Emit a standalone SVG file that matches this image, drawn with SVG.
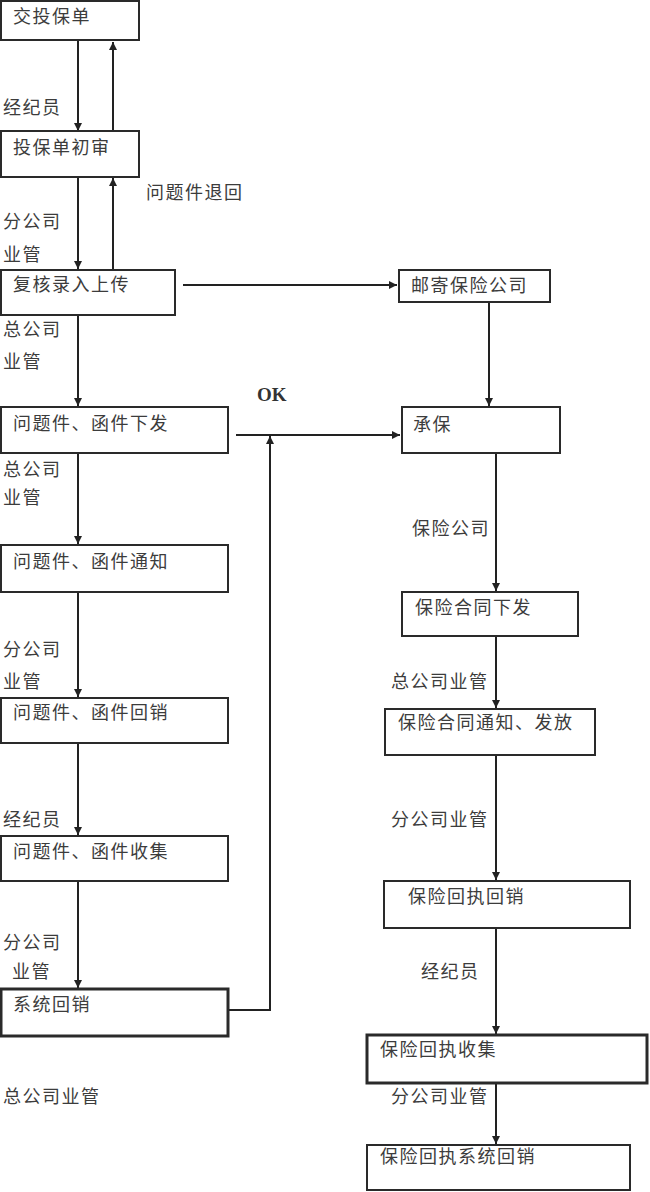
<svg xmlns="http://www.w3.org/2000/svg" width="650" height="1192" viewBox="0 0 650 1192">
<style>
.box{fill:#fff;stroke:#2a2a2a;stroke-width:2}
.thick{stroke-width:3}
.t{font-family:"Noto Sans CJK SC","Noto Sans",sans-serif;font-size:18px;letter-spacing:1.5px;fill:#3c3c3c}
.c{fill:none;stroke:#222;stroke-width:2}
.ok{font-family:"Liberation Serif",serif;font-size:19px;font-weight:bold;fill:#333}
</style>
<defs>
<marker id="ah" viewBox="0 0 10 10" refX="10" refY="5" markerWidth="4" markerHeight="4" markerUnits="strokeWidth" orient="auto">
<path d="M0,0 L10,5 L0,10 z" fill="#222"/>
</marker>
</defs>
<g id="connectors">
<path class="c" d="M78,41 V131" marker-end="url(#ah)"/>
<path class="c" d="M113,131 V42" marker-end="url(#ah)"/>
<path class="c" d="M78,178 V269" marker-end="url(#ah)"/>
<path class="c" d="M113,269 V178" marker-end="url(#ah)"/>
<path class="c" d="M78,315 V406" marker-end="url(#ah)"/>
<path class="c" d="M183,285 H397" marker-end="url(#ah)"/>
<path class="c" d="M489,302 V406" marker-end="url(#ah)"/>
<path class="c" d="M78,453 V544" marker-end="url(#ah)"/>
<path class="c" d="M78,592 V697" marker-end="url(#ah)"/>
<path class="c" d="M78,743 V835" marker-end="url(#ah)"/>
<path class="c" d="M78,881 V988" marker-end="url(#ah)"/>
<path class="c" d="M217,1010 H270 V436" marker-end="url(#ah)"/>
<path class="c" d="M236,435 H400" marker-end="url(#ah)"/>
<path class="c" d="M496,453 V591" marker-end="url(#ah)"/>
<path class="c" d="M496,636 V708" marker-end="url(#ah)"/>
<path class="c" d="M496,755 V880" marker-end="url(#ah)"/>
<path class="c" d="M496,928 V1034" marker-end="url(#ah)"/>
<path class="c" d="M496,1083 V1144" marker-end="url(#ah)"/>
</g>
<g id="n1"><rect class="box" x="1" y="1" width="138" height="39"/><text class="t" x="13" y="23">交投保单</text></g>
<g id="n2"><rect class="box" x="1" y="131" width="138" height="46"/><text class="t" x="13" y="154">投保单初审</text></g>
<g id="n3"><rect class="box" x="1" y="270" width="174" height="45"/><text class="t" x="13" y="291">复核录入上传</text></g>
<g id="n4"><rect class="box" x="1" y="407" width="227" height="46"/><text class="t" x="13" y="430">问题件、函件下发</text></g>
<g id="n5"><rect class="box" x="1" y="545" width="227" height="47"/><text class="t" x="13" y="568">问题件、函件通知</text></g>
<g id="n6"><rect class="box" x="1" y="698" width="227" height="45"/><text class="t" x="13" y="719">问题件、函件回销</text></g>
<g id="n7"><rect class="box" x="1" y="836" width="227" height="45"/><text class="t" x="13" y="858">问题件、函件收集</text></g>
<g id="n8"><rect class="box thick" x="1" y="989" width="227" height="47"/><text class="t" x="13" y="1011">系统回销</text></g>
<g id="n9"><rect class="box" x="399" y="270" width="151" height="32"/><text class="t" x="411" y="292">邮寄保险公司</text></g>
<g id="n10"><rect class="box" x="402" y="407" width="158" height="46"/><text class="t" x="413" y="431">承保</text></g>
<g id="n11"><rect class="box" x="402" y="592" width="176" height="44"/><text class="t" x="415" y="614">保险合同下发</text></g>
<g id="n12"><rect class="box" x="385" y="709" width="210" height="46"/><text class="t" x="398" y="729">保险合同通知、发放</text></g>
<g id="n13"><rect class="box" x="384" y="881" width="246" height="47"/><text class="t" x="408" y="903">保险回执回销</text></g>
<g id="n14"><rect class="box thick" x="367" y="1035" width="280" height="48"/><text class="t" x="380" y="1056">保险回执收集</text></g>
<g id="n15"><rect class="box" x="367" y="1145" width="263" height="45"/><text class="t" x="380" y="1163">保险回执系统回销</text></g>
<g id="labels">
<text class="t" x="3" y="114">经纪员</text>
<text class="t" x="146" y="199">问题件退回</text>
<text class="t" x="3" y="228">分公司</text>
<text class="t" x="3" y="261">业管</text>
<text class="t" x="3" y="336">总公司</text>
<text class="t" x="3" y="368">业管</text>
<text class="ok" x="257" y="401">OK</text>
<text class="t" x="3" y="476">总公司</text>
<text class="t" x="3" y="504">业管</text>
<text class="t" x="3" y="656">分公司</text>
<text class="t" x="3" y="688">业管</text>
<text class="t" x="3" y="826">经纪员</text>
<text class="t" x="3" y="949">分公司</text>
<text class="t" x="12" y="978">业管</text>
<text class="t" x="3" y="1103">总公司业管</text>
<text class="t" x="412" y="535">保险公司</text>
<text class="t" x="391" y="688">总公司业管</text>
<text class="t" x="391" y="826">分公司业管</text>
<text class="t" x="421" y="978">经纪员</text>
<text class="t" x="391" y="1103">分公司业管</text>
</g>
</svg>
